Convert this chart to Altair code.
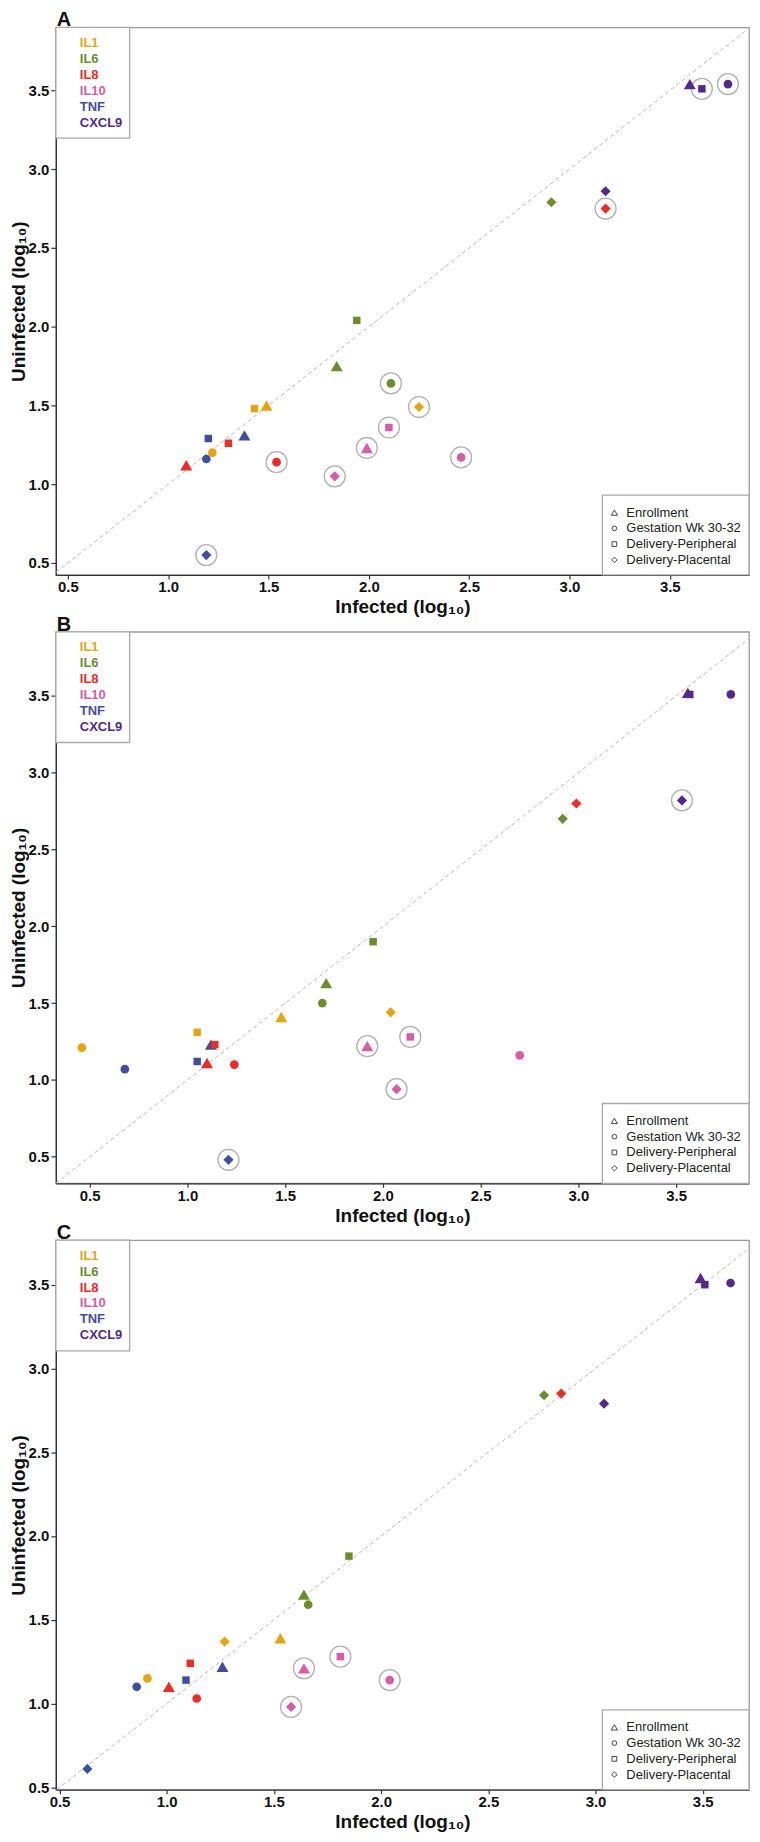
import altair as alt
import pandas as pd

cytokines = ["IL1", "IL6", "IL8", "IL10", "TNF", "CXCL9"]
cytokine_colors = ["#E5A513", "#6A8E2B", "#EE2B24", "#D65DA6", "#3E4FA3", "#55298B"]
stages = ["Enrollment", "Gestation Wk 30-32", "Delivery-Peripheral", "Delivery-Placental"]
stage_shapes = ["triangle-up", "circle", "square", "diamond"]
stage_sizes = [144, 76, 56, 104]
tick_values = [0.5, 1.0, 1.5, 2.0, 2.5, 3.0, 3.5]

# rows = cytokines, columns = stages (Enrollment, Gestation, Del-Peripheral, Del-Placental)
a_infected = [
    [1.49, 1.22, 1.43, 2.25],
    [1.84, 2.11, 1.94, 2.91],
    [1.09, 1.54, 1.30, 3.18],
    [1.99, 2.46, 2.10, 1.83],
    [1.38, 1.19, 1.20, 1.19],
    [3.60, 3.79, 3.66, 3.18],
]
a_uninfected = [
    [1.50, 1.20, 1.48, 1.49],
    [1.75, 1.64, 2.04, 2.79],
    [1.12, 1.14, 1.26, 2.75],
    [1.23, 1.17, 1.36, 1.05],
    [1.31, 1.16, 1.29, 0.55],
    [3.54, 3.54, 3.51, 2.86],
]
a_circled = [
    [False, False, False, True],
    [False, True, False, False],
    [False, True, False, True],
    [True, True, True, True],
    [False, False, False, True],
    [False, True, True, False],
]

b_infected = [
    [1.48, 0.46, 1.05, 2.04],
    [1.71, 1.69, 1.95, 2.92],
    [1.10, 1.24, 1.14, 2.99],
    [1.92, 2.70, 2.14, 2.07],
    [1.12, 0.68, 1.05, 1.21],
    [3.56, 3.78, 3.57, 3.53],
]
b_uninfected = [
    [1.41, 1.21, 1.31, 1.44],
    [1.63, 1.50, 1.90, 2.70],
    [1.11, 1.10, 1.23, 2.80],
    [1.22, 1.16, 1.28, 0.94],
    [1.23, 1.07, 1.12, 0.48],
    [3.52, 3.51, 3.51, 2.82],
]
b_circled = [
    [False, False, False, False],
    [False, False, False, False],
    [False, False, False, False],
    [True, False, True, True],
    [False, False, False, True],
    [False, False, False, True],
]

c_infected = [
    [1.53, 0.91, None, 1.27],
    [1.64, 1.66, 1.85, 2.76],
    [1.01, 1.14, 1.11, 2.84],
    [1.64, 2.04, 1.81, 1.58],
    [1.26, 0.86, 1.09, 0.63],
    [3.49, 3.63, 3.51, 3.04],
]
c_uninfected = [
    [1.39, 1.15, None, 1.37],
    [1.65, 1.59, 1.88, 2.84],
    [1.10, 1.03, 1.24, 2.85],
    [1.21, 1.14, 1.28, 0.98],
    [1.22, 1.10, 1.14, 0.61],
    [3.54, 3.51, 3.50, 2.79],
]
c_circled = [
    [False, False, False, False],
    [False, False, False, False],
    [False, False, False, False],
    [True, True, True, True],
    [False, False, False, False],
    [False, False, False, False],
]

x_domains = {"A": [0.44, 3.895], "B": [0.327, 3.873], "C": [0.483, 3.716]}
y_domains = {"A": [0.424, 3.90], "B": [0.327, 3.918], "C": [0.486, 3.766]}
panel_heights = {"A": 549, "B": 553, "C": 551}
PLOT_W = 695


def panel_frame(infected, uninfected, circled):
    rows = []
    for i, cyt in enumerate(cytokines):
        for j, stg in enumerate(stages):
            if infected[i][j] is None:
                continue
            rows.append({
                "cytokine": cyt,
                "stage": stg,
                "infected": infected[i][j],
                "uninfected": uninfected[i][j],
                "circled": circled[i][j],
            })
    return pd.DataFrame(rows)


def make_panel(letter, infected, uninfected, circled):
    xd, yd = x_domains[letter], y_domains[letter]
    height = panel_heights[letter]
    df = panel_frame(infected, uninfected, circled)
    one = pd.DataFrame({"k": [0]})

    xenc = alt.X("infected:Q",
                 scale=alt.Scale(domain=xd, nice=False, zero=False),
                 axis=alt.Axis(values=tick_values, format=".1f", title="Infected (log₁₀)"))
    yenc = alt.Y("uninfected:Q",
                 scale=alt.Scale(domain=yd, nice=False, zero=False),
                 axis=alt.Axis(values=tick_values, format=".1f", title="Uninfected (log₁₀)"))

    # line of identity (y = x) across the shared part of both axes
    lo, hi = max(xd[0], yd[0]), min(xd[1], yd[1])
    diag = alt.Chart(pd.DataFrame({"infected": [lo, hi], "uninfected": [lo, hi]})).mark_line(
        color="#b8b8b8", strokeDash=[4, 3], strokeWidth=1
    ).encode(x=xenc, y=yenc)

    rings = alt.Chart(df[df["circled"]]).mark_point(
        shape="circle", size=440, filled=False, color="#b0b0b0", strokeWidth=1.3, opacity=1
    ).encode(x=xenc, y=yenc)

    layers = [diag, rings]

    fill = alt.Fill("cytokine:N", scale=alt.Scale(domain=cytokines, range=cytokine_colors), legend=None)
    for stg, shp, sz in zip(stages, stage_shapes, stage_sizes):
        sub = df[df["stage"] == stg]
        layers.append(alt.Chart(sub).mark_point(
            filled=True, opacity=1, shape=shp, size=sz
        ).encode(x=xenc, y=yenc, fill=fill))

    # cytokine legend (top-left)
    layers.append(alt.Chart(one).mark_rect(fill="white", stroke="#a8a8a8", strokeWidth=1.3).encode(
        x=alt.value(0), x2=alt.value(74), y=alt.value(0), y2=alt.value(111)))
    for i, (name, col) in enumerate(zip(cytokines, cytokine_colors)):
        layers.append(alt.Chart(one).mark_text(
            text=name, color=col, fontSize=13, fontWeight="bold", align="left", baseline="middle",
            font="Liberation Sans"
        ).encode(x=alt.value(24), y=alt.value(15.5 + 16 * i)))

    # stage legend (bottom-right)
    top = height - 80
    left = PLOT_W - 147
    layers.append(alt.Chart(one).mark_rect(fill="white", stroke="#a8a8a8", strokeWidth=1.3).encode(
        x=alt.value(left), x2=alt.value(PLOT_W), y=alt.value(top), y2=alt.value(height)))
    sym_sizes = [38, 22, 22, 30]
    for i, (stg, shp) in enumerate(zip(stages, stage_shapes)):
        layers.append(alt.Chart(one).mark_point(
            shape=shp, size=sym_sizes[i], filled=False, color="#444444", strokeWidth=1, opacity=1
        ).encode(x=alt.value(left + 12), y=alt.value(top + 17.5 + 15.8 * i)))
        layers.append(alt.Chart(one).mark_text(
            text=stg, color="#222222", fontSize=13, align="left", baseline="middle",
            font="Liberation Sans"
        ).encode(x=alt.value(left + 24), y=alt.value(top + 17.5 + 15.8 * i)))

    # panel letter
    layers.append(alt.Chart(one).mark_text(
        text=letter, fontSize=20, fontWeight="bold", align="left", baseline="alphabetic",
        color="#111111", font="Liberation Sans"
    ).encode(x=alt.value(1), y=alt.value(-1)))

    return alt.layer(*layers).properties(width=PLOT_W, height=height)


pA = make_panel("A", a_infected, a_uninfected, a_circled)
pB = make_panel("B", b_infected, b_uninfected, b_circled)
pC = make_panel("C", c_infected, c_uninfected, c_circled)

chart = alt.vconcat(pA, pB, pC, spacing=-4).properties(
    padding={"left": 0, "right": 0, "top": -1, "bottom": 0}
).configure(
    font="Liberation Sans"
).configure_view(
    stroke="#9a9a9a", strokeWidth=1.3
).configure_axis(
    grid=False, domainColor="#333333", domainWidth=1.3, tickColor="#333333", tickWidth=1.2,
    labelFont="Liberation Sans", labelFontSize=15, labelFontWeight="bold", labelColor="#111111",
    labelFlush=False,
    titleFont="Liberation Sans", titleFontSize=19, titleFontWeight="bold", titleColor="#111111"
).configure_axisX(
    tickSize=4, labelPadding=1, titlePadding=3
).configure_axisY(
    tickSize=5, labelPadding=2, titlePadding=0
)

chart.save("out.html", embed_options={"renderer": "svg", "actions": False})
